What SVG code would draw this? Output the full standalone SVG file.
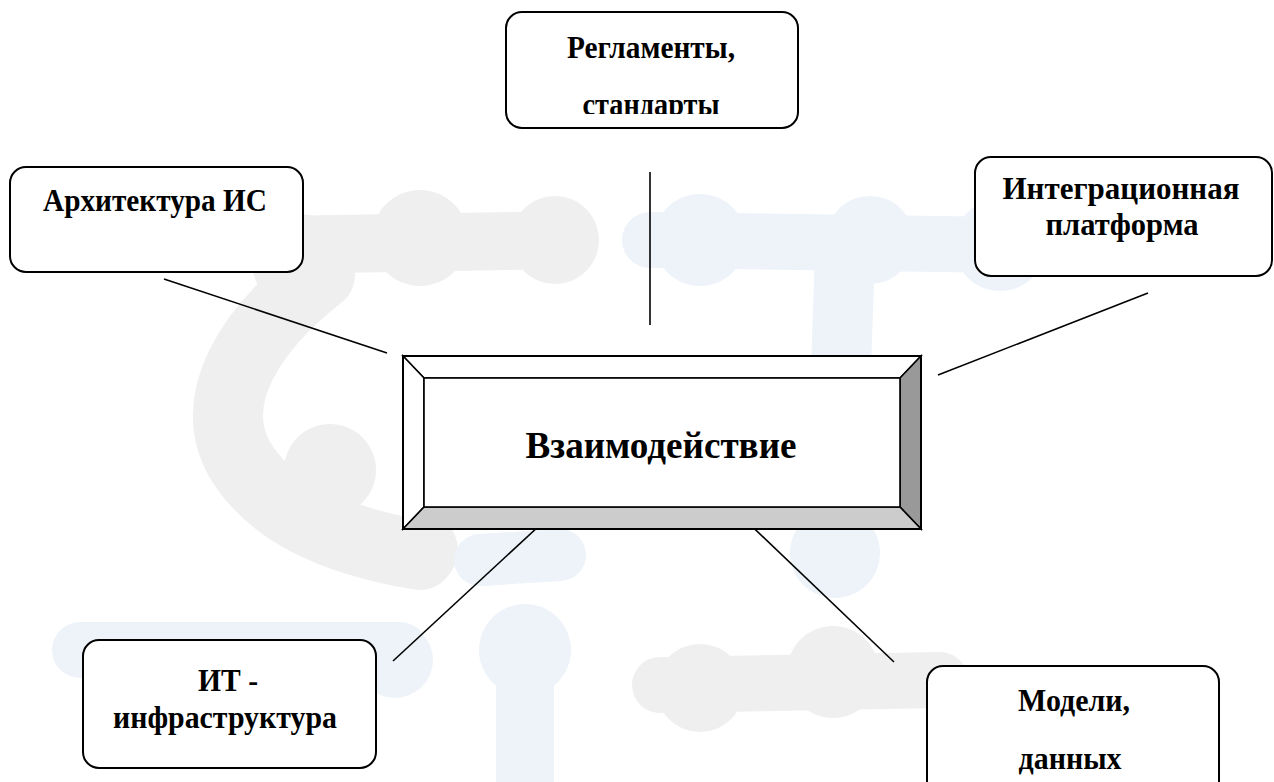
<svg xmlns="http://www.w3.org/2000/svg" width="1274" height="782" viewBox="0 0 1274 782">
<style>
.wg{fill:#efefef;stroke:none}
.wgs{stroke:#efefef;fill:none;stroke-linecap:round}
.wb{fill:#edf3f9;stroke:none}
.wbs{stroke:#edf3f9;fill:none;stroke-linecap:round}
.box{fill:#ffffff;stroke:#000;stroke-width:2}
.bev{stroke:#000;stroke-width:1.6;stroke-linejoin:miter}
.lbl{font-family:"Liberation Serif","Times New Roman",serif;font-weight:bold;font-size:31px;fill:#000;text-anchor:middle}
.ctr{font-size:37px}
.con{stroke:#000;stroke-width:1.6;fill:none}
</style>
<defs>
<clipPath id="clipTop"><rect x="506" y="0" width="292" height="114"/></clipPath>
</defs>
<rect width="1274" height="782" fill="#ffffff"/>
<g id="watermark">
<path class="wgs" stroke-width="58" d="M280 245 L560 240"/>
<circle class="wg" cx="420" cy="238" r="48"/>
<circle class="wg" cx="555" cy="240" r="44"/>
<circle class="wg" cx="300" cy="262" r="48"/>
<path class="wgs" stroke-width="70" d="M320 275 C250 330 205 400 240 460 C270 510 330 540 420 555"/>
<circle class="wg" cx="330" cy="470" r="46"/>
<circle class="wg" cx="420" cy="550" r="38"/>
<path class="wgs" stroke-width="56" d="M660 685 L940 680"/>
<circle class="wg" cx="700" cy="688" r="44"/>
<circle class="wg" cx="833" cy="672" r="46"/>
<path class="wbs" stroke-width="56" d="M650 240 L1010 245"/>
<circle class="wb" cx="700" cy="240" r="46"/>
<circle class="wb" cx="870" cy="240" r="44"/>
<circle class="wb" cx="1000" cy="245" r="46"/>
<path class="wbs" stroke-width="60" d="M845 250 L835 550"/>
<circle class="wb" cx="835" cy="553" r="45"/>
<path class="wbs" stroke-width="52" d="M480 560 L560 555"/>
<circle class="wb" cx="525" cy="650" r="46"/>
<path class="wbs" stroke-width="58" d="M525 650 L525 800"/>
<path class="wbs" stroke-width="56" d="M80 650 L400 650"/>
<circle class="wb" cx="395" cy="660" r="38"/>
</g>
<g id="connectors">
<line class="con" x1="164" y1="279" x2="387" y2="353"/>
<line class="con" x1="650" y1="172" x2="650" y2="325"/>
<line class="con" x1="1148" y1="293" x2="938" y2="375"/>
<line class="con" x1="553" y1="513" x2="393" y2="661"/>
<line class="con" x1="739" y1="514" x2="894" y2="662"/>
</g>
<g id="node-reglamenty">
<rect class="box" x="506" y="12" width="292" height="116" rx="16"/>
<text class="lbl" x="651" y="58" textLength="168" lengthAdjust="spacingAndGlyphs">Регламенты,</text>
<text class="lbl" x="651" y="115" textLength="137" lengthAdjust="spacingAndGlyphs" clip-path="url(#clipTop)">стандарты</text>
</g>
<g id="node-arhitektura">
<rect class="box" x="10" y="167" width="293" height="105" rx="16"/>
<text class="lbl" x="155" y="211" textLength="224" lengthAdjust="spacingAndGlyphs">Архитектура ИС</text>
</g>
<g id="node-integracionnaya">
<rect class="box" x="975" y="157" width="297" height="119" rx="16"/>
<text class="lbl" x="1121" y="199" textLength="237" lengthAdjust="spacingAndGlyphs">Интеграционная</text>
<text class="lbl" x="1122" y="235" textLength="153" lengthAdjust="spacingAndGlyphs">платформа</text>
</g>
<g id="node-it">
<rect class="box" x="83" y="640" width="293" height="128" rx="16"/>
<text class="lbl" x="228" y="691" textLength="60" lengthAdjust="spacingAndGlyphs">ИТ -</text>
<text class="lbl" x="225" y="728" textLength="224" lengthAdjust="spacingAndGlyphs">инфраструктура</text>
</g>
<g id="node-modeli">
<rect class="box" x="927" y="666" width="292" height="140" rx="16"/>
<text class="lbl" x="1074" y="711" textLength="112" lengthAdjust="spacingAndGlyphs">Модели,</text>
<text class="lbl" x="1070" y="769" textLength="103" lengthAdjust="spacingAndGlyphs">данных</text>
</g>
<g id="node-vzaimodeystvie">
<polygon class="bev" fill="#ffffff" points="403,356 921,356 900,378 424,378"/>
<polygon class="bev" fill="#ffffff" points="403,356 424,378 424,507 403,529"/>
<polygon class="bev" fill="#999999" points="921,356 921,529 900,507 900,378"/>
<polygon class="bev" fill="#cccccc" points="403,529 424,507 900,507 921,529"/>
<rect class="bev" fill="#ffffff" x="424" y="378" width="476" height="129"/>
<rect fill="none" stroke="#000" stroke-width="2" x="403" y="356" width="518" height="173"/>
<text class="lbl ctr" x="661" y="458" textLength="271" lengthAdjust="spacingAndGlyphs">Взаимодействие</text>
</g>
</svg>
